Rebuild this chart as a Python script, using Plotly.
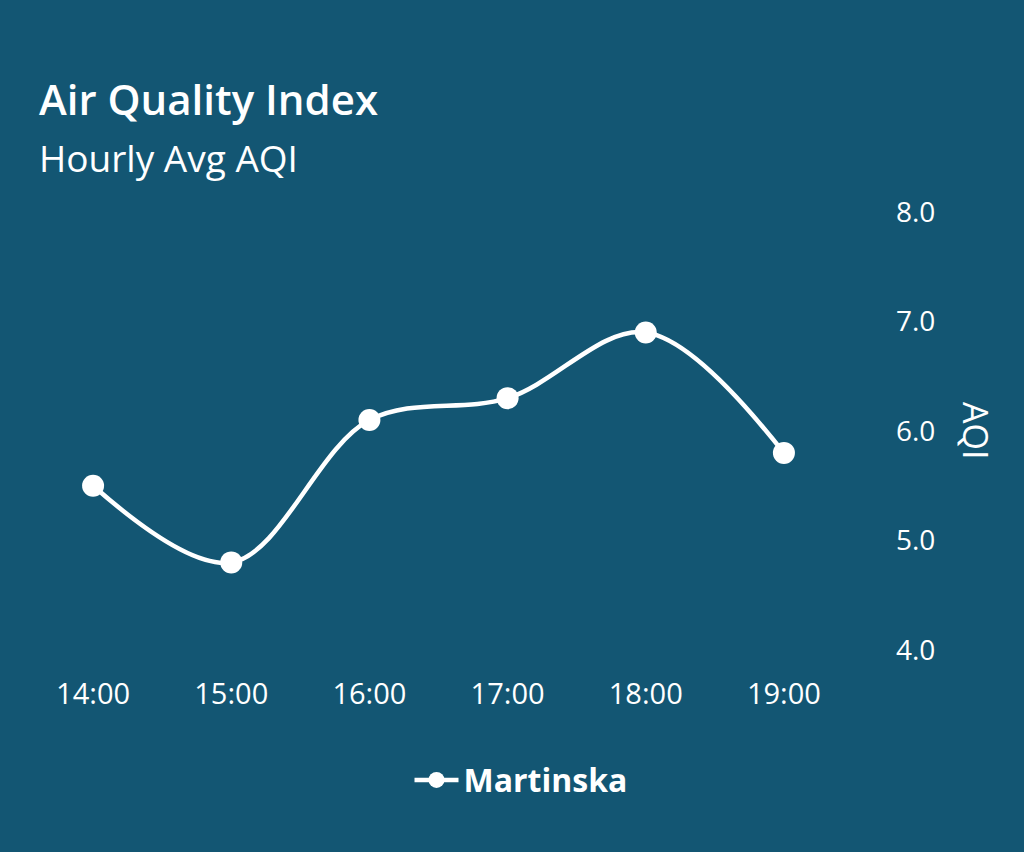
import plotly.graph_objects as go

hours = ["14:00", "15:00", "16:00", "17:00", "18:00", "19:00"]
aqi = [5.5, 4.8, 6.1, 6.3, 6.9, 5.8]
y_ticks = [4, 5, 6, 7, 8]
y_labels = ["4.0", "5.0", "6.0", "7.0", "8.0"]

bg = "#135673"
font = "Open Sans"

fig = go.Figure()
fig.add_trace(go.Scatter(
    x=hours, y=aqi, name="Martinska",
    mode="lines+markers",
    line=dict(color="white", width=4.5, shape="spline", smoothing=1.0),
    marker=dict(color="white", size=22),
))

# plot area: x 24..853, y 212..650
fig.update_layout(
    width=1024, height=852,
    paper_bgcolor=bg, plot_bgcolor=bg,
    margin=dict(l=24, r=171, t=212, b=202),
    font=dict(family=font, color="white"),
    showlegend=True,
    legend=dict(orientation="h", x=(521 - 24) / 829, xanchor="center", y=-0.297, yanchor="middle",
                font=dict(size=32, family=font, weight="bold"), itemwidth=44),
    annotations=[
        dict(text="Air Quality Index", xref="paper", yref="paper",
             x=(37 - 24) / 829, y=(650 - 98) / 438, xanchor="left", yanchor="middle",
             showarrow=False, font=dict(size=42, color="white", family=font, weight=600)),
        dict(text="Hourly Avg AQI", xref="paper", yref="paper",
             x=(37 - 24) / 829, y=(650 - 158) / 438, xanchor="left", yanchor="middle",
             showarrow=False, font=dict(size=37, color="white", family=font)),
        dict(text="AQI", xref="paper", yref="paper", textangle=90,
             x=(976 - 24) / 829, y=(650 - 430) / 438, xanchor="center", yanchor="middle",
             showarrow=False, font=dict(size=34, color="white", family=font)),
    ],
)

fig.update_xaxes(
    type="category", range=[-0.5, 5.5], showgrid=False, zeroline=False, showline=False,
    tickfont=dict(size=29, color="white", family=font), ticks="", ticklabelstandoff=24,
)
fig.update_yaxes(
    side="right", range=[4, 8], tickvals=y_ticks, ticktext=y_labels,
    showgrid=False, zeroline=False, showline=False, ticks="",
    tickfont=dict(size=28, color="white", family=font), ticklabelstandoff=42,
)

fig.write_html("out.html", config={"displayModeBar": False},
               post_script="document.body.style.margin='0';")
